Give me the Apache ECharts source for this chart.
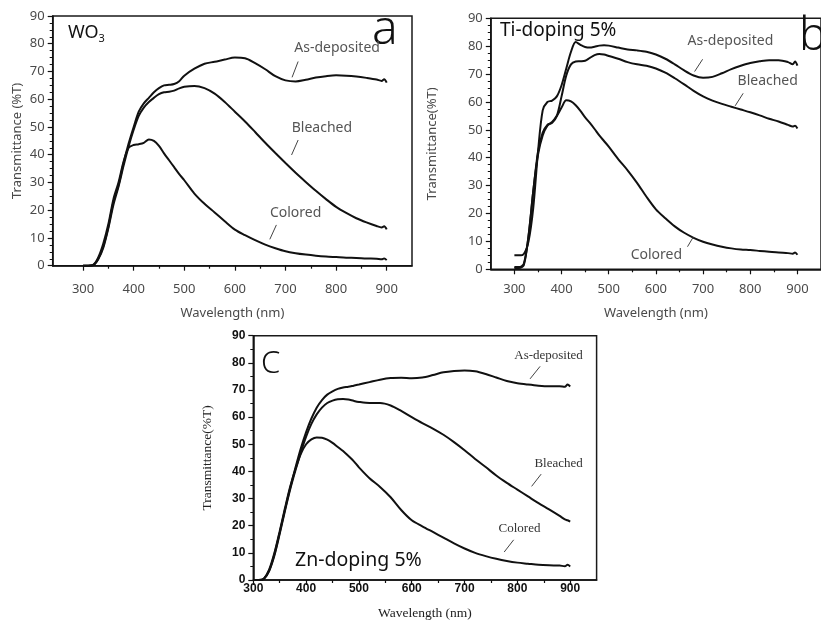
<!DOCTYPE html>
<html>
<head>
<meta charset="utf-8">
<script src="https://cdn.jsdelivr.net/npm/echarts@6/dist/echarts.min.js"></script>
<style>
  html, body { margin: 0; padding: 0; background: #fff; }
  #chart { width: 821px; height: 621px; }
</style>
</head>
<body>
<div id="chart"></div>
<script>
// Wavelength sampling (nm) shared by every spectrum
const wavelengths = [300, 310, 320, 330, 340, 350, 360, 370, 380, 390, 400, 410, 420, 430, 440, 450, 460, 470, 480, 490, 500,
  520, 540, 560, 580, 600, 620, 640, 660, 680, 700, 720, 740, 760, 780, 800, 820, 840, 860, 880, 890, 895, 900];

// (a) WO3
const asDepositedWO3 = [0, 0, 0.2, 2.5, 7, 14, 23, 29, 37, 44, 50, 55.5, 58.5, 60.5, 62.5, 64, 65, 65.2, 65.5, 66.5, 68.5,
  71, 72.8, 73.5, 74.3, 75, 74.8, 73, 70.8, 68.3, 66.8, 66.4, 67, 67.8, 68.3, 68.6, 68.5, 68.2, 67.7, 67.1, 66.6, 67.2, 66];
const bleachedWO3 = [0, 0, 0.2, 2.3, 6.5, 13.5, 22, 28.5, 36, 43, 49, 54, 57, 59, 60.5, 61.8, 62.5, 62.7, 63.1, 63.9, 64.5,
  64.8, 64, 62, 59, 55.5, 52, 48.2, 44.3, 40.6, 37, 33.5, 30.2, 27, 24, 21.2, 19, 17.1, 15.6, 14.3, 13.8, 14.2, 13.1];
const coloredWO3 = [0, 0, 0.3, 3, 8, 15, 24, 30, 37.5, 42.5, 43.5, 43.8, 44.3, 45.5, 45, 43.2, 40.5, 38, 35.5, 33, 30.8,
  26, 22.3, 19.2, 16, 13, 11, 9.2, 7.6, 6.3, 5.2, 4.5, 4, 3.6, 3.3, 3.1, 2.9, 2.8, 2.6, 2.5, 2.3, 2.6, 2];

// (b) Ti-doping 5%
const asDepositedTi = [5, 5, 5.5, 10, 22, 42, 57, 60, 60.5, 62, 66, 72, 78, 81.5, 80.5, 79.7, 79.5, 79.8, 80.2, 80.3, 80.2,
  79.5, 78.8, 78.5, 78, 77, 75.5, 73.5, 71.3, 69.5, 68.7, 69, 70.3, 71.8, 73, 74, 74.6, 75, 75, 74.3, 73.5, 74.5, 73];
const bleachedTi = [0.8, 0.8, 2, 12, 28, 42, 49, 51.8, 52.5, 55, 62, 69.5, 73.5, 74.5, 74.6, 74.8, 75.8, 76.8, 77.2, 77, 76.5,
  75.5, 74.3, 73.5, 73, 72, 70.5, 68.5, 66.3, 64, 62, 60.5, 59.3, 58.3, 57.3, 56.3, 55.2, 54, 53, 51.8, 51.2, 51.5, 50.5];
const coloredTi = [0.5, 0.5, 1.5, 12, 28, 41, 48, 51.5, 52.8, 55, 58, 60.6, 60.2, 58.8, 56.8, 54.5, 52.5, 50.3, 48, 46, 44,
  39.5, 35.5, 31, 26, 21.5, 18.3, 15.4, 13.1, 11.3, 9.9, 8.9, 8.1, 7.5, 7.1, 6.9, 6.6, 6.3, 6, 5.8, 5.6, 6, 5.2];

// (c) Zn-doping 5%
const asDepositedZn = [0, 0, 0.5, 3.5, 9.5, 17.5, 26, 34, 41.5, 48.5, 54.5, 59.5, 63.5, 66.3, 68.3, 69.5, 70.4, 70.9, 71.2, 71.6, 72,
  72.9, 73.8, 74.4, 74.5, 74.3, 74.6, 75.5, 76.5, 77, 77.2, 76.9, 75.9, 74.6, 73.3, 72.5, 72, 71.6, 71.4, 71.4, 71.2, 72, 71.3];
const bleachedZn = [0, 0, 0.4, 3.3, 9, 17, 25.5, 33.5, 40.5, 47, 52.8, 57.5, 61, 63.5, 65.2, 66.1, 66.6, 66.7, 66.5, 66, 65.6,
  65.2, 65.2, 64.3, 62.3, 60, 57.8, 55.8, 53.5, 50.8, 47.8, 44.6, 41.6, 38.5, 35.8, 33.3, 30.8, 28.3, 26, 23.6, 22.3, 22, 21.5];
const coloredZn = [0, 0, 0.5, 3.8, 10, 18, 26.5, 34.5, 41, 46.5, 50, 51.8, 52.5, 52.4, 51.7, 50.5, 49, 47.5, 45.7, 43.8, 41.5,
  37.5, 34.3, 30.5, 25.8, 22, 19.8, 17.7, 15.6, 13.5, 11.6, 10, 8.8, 7.8, 7, 6.4, 6, 5.6, 5.4, 5.3, 5.1, 5.6, 5];

// Axis ticks
const xMajorTicks = [300, 400, 500, 600, 700, 800, 900];
const xMinorTicks = [350, 450, 550, 650, 750, 850];
const seriesNames = ['As-deposited', 'Bleached', 'Colored'];

const SANS = "'Noto Sans', 'Open Sans', sans-serif";
const SERIF = "'Liberation Serif', 'DejaVu Serif', serif";
const ARIAL = "'Liberation Sans', Arial, sans-serif";

// Layout and style per panel
const panels = [
  {
    grid: { left: 52.7, top: 16, width: 359.3, height: 249.7 },
    xMin: 240, xMax: 950,
    values: [asDepositedWO3, bleachedWO3, coloredWO3],
    yName: 'Transmittance (%T)', yNameGap: 29, xNameGap: 41,
    tickFont: SANS, tickColor: '#4a4a4a', tickSize: 13, tickWeight: 'normal', xLabelMargin: 17,
    nameFont: SANS, nameColor: '#4a4a4a', nameSize: 13,
    yMinorSplit: 4,
    annoFont: SANS, annoColor: '#555', annoSize: 14,
    notes: [
      { text: [802, 78.4], from: [725, 73.6], to: [713, 67.9] },
      { text: [772, 49.8], from: [725, 45.3], to: [712, 39.9] },
      { text: [720, 19.1], from: [682, 14.7], to: [669, 9.5] }
    ]
  },
  {
    grid: { left: 490.8, top: 18.3, width: 339.2, height: 251 },
    xMin: 250, xMax: 950,
    values: [asDepositedTi, bleachedTi, coloredTi],
    yName: 'Transmittance(%T)', yNameGap: 52, xNameGap: 37,
    tickFont: SANS, tickColor: '#4a4a4a', tickSize: 13, tickWeight: 'normal', xLabelMargin: 13,
    nameFont: SANS, nameColor: '#4a4a4a', nameSize: 13,
    yMinorSplit: 4,
    annoFont: SANS, annoColor: '#555', annoSize: 14,
    notes: [
      { text: [758, 82], from: [699, 75.3], to: [682, 70.9] },
      { text: [837, 67.5], from: [785, 63.1], to: [768, 58.6] },
      { text: [601, 5.1], from: [667, 8.1], to: [679, 11.5] }
    ]
  },
  {
    grid: { left: 253.3, top: 335.7, width: 343.3, height: 247.6 },
    xMin: 300, xMax: 950,
    values: [asDepositedZn, bleachedZn, coloredZn],
    yName: 'Transmittance(%T)', yNameGap: 39, xNameGap: 26,
    tickFont: ARIAL, tickColor: '#111', tickSize: 12, tickWeight: 'bold', xLabelMargin: 3,
    nameFont: SERIF, nameColor: '#222', nameSize: 13.5,
    yMinorSplit: 2,
    annoFont: SERIF, annoColor: '#333', annoSize: 13,
    notes: [
      { text: [859, 82.7], from: [843, 78.7], to: [824, 74.1] },
      { text: [878, 43], from: [845, 39], to: [827, 34.5] },
      { text: [804, 19.1], from: [793, 14.8], to: [775, 10.3] }
    ]
  }
];

const grids = [], xAxes = [], yAxes = [], series = [];

panels.forEach((p, i) => {
  grids.push(Object.assign({ show: true, borderColor: '#1a1a1a', borderWidth: 1.5, backgroundColor: 'transparent' }, p.grid));

  // main x axis: line, labels, major ticks
  xAxes.push({
    type: 'value', gridIndex: i, position: 'bottom', min: p.xMin, max: p.xMax,
    name: 'Wavelength (nm)', nameLocation: 'middle', nameGap: p.xNameGap,
    nameTextStyle: { fontFamily: p.nameFont, color: p.nameColor, fontSize: p.nameSize },
    axisLine: { show: true, onZero: false, lineStyle: { color: '#111', width: 1.5 } },
    axisTick: { show: true, customValues: xMajorTicks, length: 5, lineStyle: { color: '#111', width: 1.2 } },
    axisLabel: { show: true, customValues: xMajorTicks, margin: p.xLabelMargin,
      fontFamily: p.tickFont, color: p.tickColor, fontSize: p.tickSize, fontWeight: p.tickWeight },
    splitLine: { show: false }
  });
  // companion x axis carrying the minor ticks only
  xAxes.push({
    type: 'value', gridIndex: i, position: 'bottom', offset: 0, min: p.xMin, max: p.xMax,
    axisLine: { show: false },
    axisTick: { show: true, customValues: xMinorTicks, length: 3, lineStyle: { color: '#111', width: 1.2 } },
    axisLabel: { show: false },
    splitLine: { show: false }
  });

  yAxes.push({
    type: 'value', gridIndex: i, min: 0, max: 90, interval: 10,
    name: p.yName, nameLocation: 'middle', nameGap: p.yNameGap,
    nameTextStyle: { fontFamily: p.nameFont, color: p.nameColor, fontSize: p.nameSize },
    axisLine: { show: true, onZero: false, lineStyle: { color: '#111', width: 1.5 } },
    axisTick: { show: true, length: 5, lineStyle: { color: '#111', width: 1.2 } },
    minorTick: { show: true, splitNumber: p.yMinorSplit, length: 3, lineStyle: { color: '#111', width: 1 } },
    axisLabel: { margin: 8, fontFamily: p.tickFont, color: p.tickColor, fontSize: p.tickSize, fontWeight: p.tickWeight },
    splitLine: { show: false }
  });

  p.values.forEach((vals, k) => {
    const note = p.notes[k];
    series.push({
      name: seriesNames[k],
      type: 'line',
      xAxisIndex: 2 * i, yAxisIndex: i,
      data: wavelengths.map((w, j) => [w, vals[j]]),
      showSymbol: false, smooth: 0.3, silent: true,
      lineStyle: { color: '#111', width: 2 },
      markPoint: {
        silent: true, symbol: 'rect', symbolSize: 1, itemStyle: { color: 'transparent' },
        label: { show: true, position: 'inside', formatter: seriesNames[k],
          fontFamily: p.annoFont, color: p.annoColor, fontSize: p.annoSize },
        data: [{ coord: note.text }]
      },
      markLine: {
        silent: true, symbol: ['none', 'arrow'], symbolSize: [0, 7],
        label: { show: false },
        lineStyle: { color: '#444', width: 1, type: 'solid' },
        data: [[{ coord: note.from }, { coord: note.to }]]
      }
    });
  });
});

// Panel captions
const graphic = [
  { type: 'text', left: 68, top: 24, style: { text: '{m|WO}{s|3}', rich: {
      m: { fontFamily: SANS, fontSize: 18, fill: '#111' },
      s: { fontFamily: SANS, fontSize: 11, fill: '#111', padding: [12, 0, 0, 0] } } } },
  { type: 'text', left: 372, top: 6, style: { text: 'a', fontFamily: SANS, fontWeight: 300, fontSize: 48, fill: '#111' } },
  { type: 'text', left: 500, top: 21, style: { text: 'Ti-doping 5%', fontFamily: SANS, fontSize: 19, fill: '#111' } },
  { type: 'text', left: 799, top: 14, style: { text: 'b', fontFamily: SANS, fontWeight: 300, fontSize: 46, fill: '#111' } },
  { type: 'text', left: 261, top: 349, style: { text: 'C', fontFamily: SANS, fontWeight: 300, fontSize: 31, fill: '#111' } },
  { type: 'text', left: 295, top: 550, style: { text: 'Zn-doping 5%', fontFamily: SANS, fontSize: 19.5, fill: '#111' } }
];

const chart = echarts.init(document.getElementById('chart'), null, { renderer: 'canvas' });
chart.setOption({
  animation: false,
  backgroundColor: '#fff',
  grid: grids,
  xAxis: xAxes,
  yAxis: yAxes,
  series: series,
  graphic: graphic
});
</script>
</body>
</html>
